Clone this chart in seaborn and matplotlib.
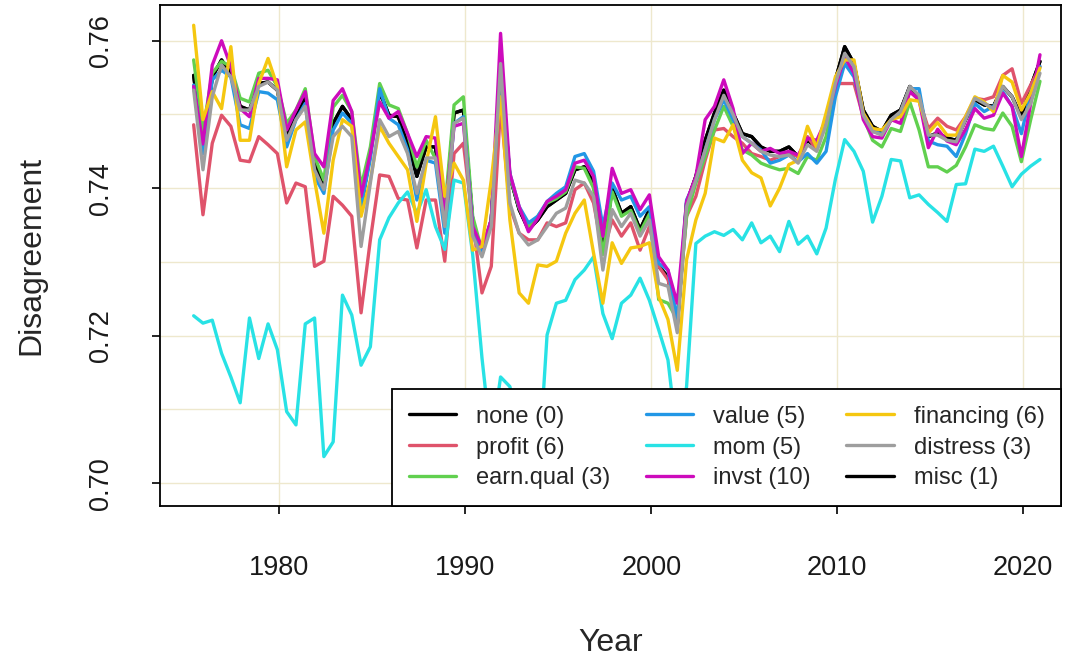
import numpy as np
import pandas as pd
import matplotlib
matplotlib.use("Agg")
import matplotlib.pyplot as plt
from matplotlib.lines import Line2D
import seaborn as sns

years = np.arange(1975.4, 2021.0, 0.5)

none_ = [0.7553,0.7450,0.7551,0.7574,0.7556,0.7511,0.7506,0.7542,0.7544,0.7533,
         0.7470,0.7499,0.7522,0.7434,0.7402,0.7488,0.7511,0.7493,0.7375,0.7447,
         0.7531,0.7499,0.7497,0.7461,0.7416,0.7456,0.7456,0.7357,0.7502,0.7506,
         0.7357,0.7310,0.7357,0.7569,0.7416,0.7371,0.7344,0.7357,0.7375,0.7384,
         0.7393,0.7425,0.7429,0.7407,0.7312,0.7400,0.7366,0.7375,0.7344,0.7371,
         0.7294,0.7280,0.7213,0.7380,0.7416,0.7465,0.7502,0.7533,0.7502,0.7474,
         0.7470,0.7456,0.7450,0.7450,0.7456,0.7443,0.7465,0.7456,0.7493,0.7547,
         0.7592,0.7569,0.7506,0.7484,0.7477,0.7499,0.7506,0.7538,0.7524,0.7470,
         0.7475,0.7468,0.7465,0.7493,0.7520,0.7513,0.7511,0.7538,0.7524,0.7497,
         0.7538,0.7572]
profit = [0.7486,0.7364,0.7461,0.7499,0.7484,0.7438,0.7436,0.7470,0.7459,0.7447,
          0.7380,0.7407,0.7402,0.7294,0.7301,0.7389,0.7377,0.7362,0.7231,0.7330,
          0.7418,0.7416,0.7386,0.7384,0.7319,0.7384,0.7384,0.7301,0.7447,0.7461,
          0.7357,0.7258,0.7294,0.7511,0.7375,0.7339,0.7330,0.7330,0.7353,0.7348,
          0.7353,0.7398,0.7407,0.7380,0.7312,0.7357,0.7335,0.7353,0.7316,0.7348,
          0.7294,0.7276,0.7222,0.7362,0.7389,0.7438,0.7479,0.7481,0.7470,0.7461,
          0.7447,0.7443,0.7438,0.7443,0.7447,0.7443,0.7470,0.7452,0.7493,0.7542,
          0.7542,0.7542,0.7497,0.7479,0.7472,0.7493,0.7499,0.7531,0.7520,0.7481,
          0.7495,0.7484,0.7479,0.7497,0.7522,0.7520,0.7524,0.7553,0.7562,0.7515,
          0.7540,0.7565]
earn_qual = [0.7574,0.7478,0.7556,0.7572,0.7565,0.7522,0.7517,0.7556,0.7560,0.7538,
             0.7488,0.7506,0.7535,0.7443,0.7411,0.7510,0.7526,0.7504,0.7402,0.7456,
             0.7542,0.7513,0.7508,0.7474,0.7429,0.7465,0.7440,0.7370,0.7513,0.7524,
             0.7362,0.7315,0.7357,0.7565,0.7416,0.7373,0.7348,0.7362,0.7380,0.7386,
             0.7395,0.7429,0.7427,0.7400,0.7310,0.7395,0.7362,0.7370,0.7340,0.7365,
             0.7249,0.7244,0.7222,0.7362,0.7407,0.7443,0.7479,0.7511,0.7484,0.7452,
             0.7445,0.7434,0.7429,0.7425,0.7427,0.7420,0.7443,0.7438,0.7470,0.7538,
             0.7578,0.7556,0.7497,0.7465,0.7456,0.7481,0.7477,0.7517,0.7479,0.7429,
             0.7429,0.7422,0.7431,0.7456,0.7486,0.7481,0.7479,0.7502,0.7484,0.7436,
             0.7493,0.7545]
value = [0.7540,0.7447,0.7547,0.7560,0.7551,0.7486,0.7481,0.7531,0.7529,0.7520,
         0.7456,0.7493,0.7515,0.7416,0.7393,0.7479,0.7502,0.7488,0.7375,0.7440,
         0.7535,0.7495,0.7486,0.7452,0.7384,0.7438,0.7434,0.7339,0.7488,0.7497,
         0.7348,0.7315,0.7357,0.7570,0.7420,0.7375,0.7353,0.7362,0.7382,0.7393,
         0.7402,0.7443,0.7447,0.7423,0.7348,0.7407,0.7384,0.7389,0.7362,0.7375,
         0.7298,0.7289,0.7222,0.7384,0.7411,0.7452,0.7493,0.7520,0.7493,0.7470,
         0.7461,0.7452,0.7434,0.7438,0.7445,0.7436,0.7447,0.7434,0.7450,0.7524,
         0.7569,0.7551,0.7499,0.7477,0.7474,0.7493,0.7502,0.7535,0.7535,0.7464,
         0.7459,0.7457,0.7443,0.7474,0.7515,0.7504,0.7511,0.7531,0.7511,0.7474,
         0.7529,0.7565]
mom = [0.7227,0.7217,0.7221,0.7176,0.7144,0.7109,0.7224,0.7169,0.7216,0.7181,
       0.7097,0.7079,0.7216,0.7224,0.7036,0.7056,0.7255,0.7228,0.7160,0.7185,
       0.7330,0.7360,0.7380,0.7395,0.7366,0.7398,0.7348,0.7317,0.7411,0.7407,
       0.7310,0.7170,0.7054,0.7144,0.7131,0.7072,0.6993,0.7002,0.7201,0.7244,
       0.7248,0.7276,0.7289,0.7307,0.7230,0.7196,0.7244,0.7255,0.7278,0.7248,
       0.7208,0.7167,0.7058,0.7131,0.7325,0.7335,0.7341,0.7336,0.7344,0.7330,
       0.7353,0.7326,0.7335,0.7314,0.7355,0.7324,0.7335,0.7311,0.7346,0.7412,
       0.7466,0.7450,0.7423,0.7354,0.7389,0.7439,0.7437,0.7387,0.7391,0.7378,
       0.7367,0.7355,0.7405,0.7406,0.7453,0.7450,0.7457,0.7430,0.7402,0.7419,
       0.7430,0.7439]
invst = [0.7538,0.7460,0.7567,0.7600,0.7565,0.7508,0.7497,0.7549,0.7549,0.7547,
         0.7479,0.7506,0.7531,0.7447,0.7429,0.7519,0.7535,0.7504,0.7389,0.7447,
         0.7517,0.7495,0.7504,0.7474,0.7443,0.7470,0.7468,0.7362,0.7484,0.7488,
         0.7348,0.7320,0.7357,0.7610,0.7420,0.7375,0.7341,0.7359,0.7382,0.7389,
         0.7398,0.7434,0.7438,0.7416,0.7335,0.7427,0.7393,0.7398,0.7371,0.7391,
         0.7307,0.7289,0.7244,0.7382,0.7416,0.7493,0.7511,0.7547,0.7508,0.7447,
         0.7461,0.7450,0.7454,0.7447,0.7450,0.7445,0.7468,0.7465,0.7493,0.7538,
         0.7578,0.7556,0.7493,0.7470,0.7468,0.7493,0.7488,0.7531,0.7520,0.7455,
         0.7480,0.7464,0.7459,0.7480,0.7508,0.7495,0.7499,0.7529,0.7511,0.7443,
         0.7515,0.7581]
financing = [0.7621,0.7493,0.7531,0.7508,0.7592,0.7465,0.7465,0.7542,0.7576,0.7538,
             0.7429,0.7479,0.7490,0.7411,0.7339,0.7438,0.7493,0.7484,0.7362,0.7411,
             0.7484,0.7461,0.7443,0.7425,0.7355,0.7434,0.7497,0.7389,0.7434,0.7411,
             0.7316,0.7321,0.7411,0.7524,0.7357,0.7258,0.7244,0.7296,0.7294,0.7301,
             0.7339,0.7366,0.7384,0.7312,0.7244,0.7326,0.7298,0.7319,0.7321,0.7326,
             0.7253,0.7222,0.7153,0.7303,0.7357,0.7393,0.7468,0.7463,0.7486,0.7438,
             0.7421,0.7414,0.7376,0.7400,0.7432,0.7438,0.7484,0.7455,0.7502,0.7551,
             0.7574,0.7574,0.7502,0.7481,0.7479,0.7493,0.7497,0.7520,0.7518,0.7475,
             0.7489,0.7472,0.7472,0.7497,0.7524,0.7517,0.7504,0.7553,0.7544,0.7506,
             0.7529,0.7563]
distress = [0.7533,0.7425,0.7524,0.7567,0.7551,0.7506,0.7506,0.7538,0.7544,0.7533,
            0.7465,0.7493,0.7511,0.7425,0.7398,0.7470,0.7484,0.7470,0.7321,0.7407,
            0.7493,0.7470,0.7477,0.7447,0.7393,0.7441,0.7441,0.7348,0.7488,0.7495,
            0.7335,0.7307,0.7348,0.7569,0.7380,0.7339,0.7323,0.7330,0.7348,0.7366,
            0.7373,0.7411,0.7407,0.7389,0.7289,0.7371,0.7348,0.7366,0.7335,0.7357,
            0.7271,0.7267,0.7204,0.7375,0.7411,0.7452,0.7493,0.7526,0.7500,0.7470,
            0.7461,0.7450,0.7445,0.7443,0.7445,0.7434,0.7459,0.7450,0.7486,0.7542,
            0.7583,0.7565,0.7499,0.7477,0.7472,0.7493,0.7504,0.7538,0.7526,0.7472,
            0.7472,0.7465,0.7463,0.7493,0.7522,0.7515,0.7508,0.7538,0.7524,0.7493,
            0.7515,0.7556]
misc = list(none_)

labels = ["none (0)", "profit (6)", "earn.qual (3)", "value (5)", "mom (5)",
          "invst (10)", "financing (6)", "distress (3)", "misc (1)"]
colors = ["#000000", "#DF536B", "#61D04F", "#2297E6", "#28E2E5",
          "#CD0BBC", "#F5C710", "#9E9E9E", "#000000"]
series = [none_, profit, earn_qual, value, mom, invst, financing, distress, misc]

frames = []
for lab, vals in zip(labels, series):
    frames.append(pd.DataFrame({"Year": years, "Disagreement": vals, "series": lab}))
df = pd.concat(frames, ignore_index=True)

sns.set_style("white")
plt.rcParams["font.family"] = ["Liberation Sans", "DejaVu Sans"]

fig = plt.figure(figsize=(10.69, 6.61), dpi=100)
ax = fig.add_axes([160/1069, 1-506/661, (1061-160)/1069, (506-5)/661])

draw_order = ["misc (1)", "none (0)", "profit (6)", "earn.qual (3)", "value (5)",
              "mom (5)", "invst (10)", "financing (6)", "distress (3)"]
pal = dict(zip(labels, colors))
sns.lineplot(data=df, x="Year", y="Disagreement", hue="series",
             hue_order=draw_order, palette=pal, linewidth=2.4,
             sort=False, estimator=None, legend=False, ax=ax)

ax.set_xlim(1973.59, 2022.03)
ax.set_ylim(0.6969, 0.76485)
ax.set_xticks([1980, 1990, 2000, 2010, 2020])
ax.set_yticks([0.70, 0.72, 0.74, 0.76])
ax.set_yticklabels(["0.70", "0.72", "0.74", "0.76"], rotation=90, va="center")
for v in [1980, 1990, 2000, 2010, 2020]:
    ax.axvline(v, color="#EEE8CD", lw=1.0, zorder=0)
for v in [0.70, 0.71, 0.72, 0.73, 0.74, 0.75, 0.76]:
    ax.axhline(v, color="#EEE8CD", lw=1.0, zorder=0)

for s in ax.spines.values():
    s.set_visible(True)
    s.set_color("black")
    s.set_linewidth(1.3)
ax.tick_params(axis="both", direction="out", length=6, width=1.2,
               labelsize=19.5, color="black", labelcolor="#1a1a1a")
ax.tick_params(axis="x", pad=29, bottom=True)
ax.tick_params(axis="y", pad=27, left=True)
ax.set_xlabel("Year", fontsize=23, labelpad=34)
ax.set_ylabel("Disagreement", fontsize=23, labelpad=30)

handles = [Line2D([0], [0], color=c, lw=2.4) for c in colors]
leg = ax.legend(handles, labels, loc="lower right", bbox_to_anchor=(1.0, 0.0),
                ncol=3, fontsize=17, frameon=True, fancybox=False,
                edgecolor="black", borderaxespad=0, handlelength=2.0,
                handletextpad=0.85, columnspacing=1.5, labelspacing=0.38,
                borderpad=0.7)
leg.get_frame().set_linewidth(1.3)
leg.get_frame().set_alpha(1.0)

fig.savefig("out.png", dpi=100)
